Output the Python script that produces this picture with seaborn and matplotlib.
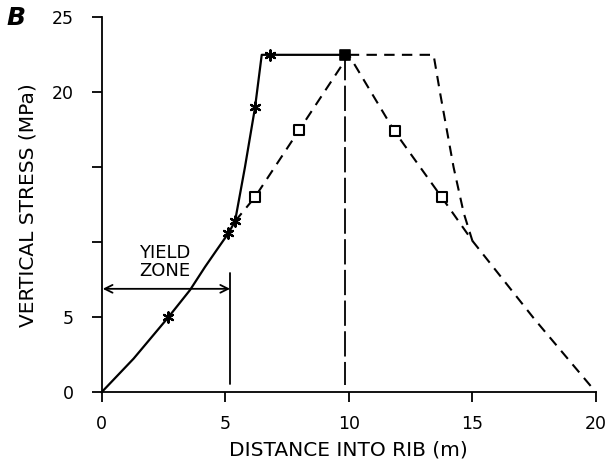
import matplotlib
matplotlib.use("Agg")
import matplotlib.pyplot as plt
import seaborn as sns
import pandas as pd
import numpy as np

sns.set_theme(style="ticks")
plt.rcParams['font.family'] = ['DejaVu Sans']
plt.rcParams['text.color'] = 'black'
plt.rcParams['axes.labelcolor'] = 'black'

# --- data ---
# solid curve (measured, with asterisks)
solid_x = [0, 1.3, 2.7, 3.58, 4.19, 4.66, 5.13, 5.40, 5.8, 6.21, 6.48, 6.82, 10]
solid_y = [0, 2.25, 5.0, 6.82, 8.37, 9.49, 10.6, 11.4, 15.0, 19.0, 22.5, 22.5, 22.5]
star_x = [2.7, 5.13, 5.40, 6.21, 6.82]
star_y = [5.0, 10.6, 11.4, 19.0, 22.5]

# dashed curve with open squares
dash_x = [5.40, 6.2, 8.0, 10, 11.85, 13.76, 15.0, 17.5, 20]
dash_y = [11.4, 13.0, 17.5, 22.5, 17.4, 13.0, 10.1, 4.9, 0]
sq_x = [6.2, 8.0, 11.85, 13.76]
sq_y = [13.0, 17.5, 17.4, 13.0]

# outer dashed envelope
outer_x = [10, 13.43, 13.7, 14.24, 14.65, 15.0]
outer_y = [22.5, 22.5, 19.9, 15.0, 11.95, 10.1]

# peak point
peak_x = [9.85]
peak_y = [22.5]

# centre-line (long dash)
centre_x = [9.85, 9.85]
centre_y = [22.5, 0.5]

# yield zone
yield_edge = 5.2
yield_arrow_y = 6.9

xticks = [0, 5, 10, 15, 20]
yticks = [0, 5, 10, 15, 20, 25]
ytick_labels = ["0", "5", "", "", "20", "25"]

fig = plt.figure(figsize=(6.13, 4.72), dpi=100)
ax = fig.add_axes([0.1656, 0.1688, 0.8067, 0.7945])

sns.lineplot(x=solid_x, y=solid_y, sort=False, estimator=None, ax=ax,
             color="black", lw=1.6)
sns.lineplot(x=dash_x, y=dash_y, sort=False, estimator=None, ax=ax,
             color="black", lw=1.5)
ax.lines[-1].set_dashes([5, 3.5])
sns.lineplot(x=outer_x, y=outer_y, sort=False, estimator=None, ax=ax,
             color="black", lw=1.5)
ax.lines[-1].set_dashes([5, 3.5])
sns.lineplot(x=centre_x, y=centre_y, sort=False, estimator=None, ax=ax,
             color="black", lw=1.3)
ax.lines[-1].set_dashes([14, 3])

sns.scatterplot(x=star_x, y=star_y, marker=(6, 2, 0), s=55, color="black",
                linewidth=1.6, edgecolor="black", ax=ax, zorder=5)
sns.scatterplot(x=sq_x, y=sq_y, marker="s", s=60, facecolor="white",
                edgecolor="black", linewidth=1.5, ax=ax, zorder=5)
sns.scatterplot(x=peak_x, y=peak_y, marker="s", s=60, color="black",
                edgecolor="black", linewidth=1.2, ax=ax, zorder=6)

# yield zone annotation
ax.annotate("", xy=(0.05, yield_arrow_y), xytext=(yield_edge, yield_arrow_y),
            arrowprops=dict(arrowstyle="<->", color="black", lw=1.3,
                            shrinkA=0, shrinkB=0, mutation_scale=14))
ax.plot([yield_edge, yield_edge], [0.55, 7.93], color="black", lw=1.3)
ax.text(2.55, 8.7, "YIELD\nZONE", ha="center", va="center", fontsize=13,
        linespacing=1.0)

ax.set_xlim(0, 20)
ax.set_ylim(0, 25)
ax.set_xticks(xticks)
ax.set_xticklabels([str(v) for v in xticks])
ax.set_yticks(yticks)
ax.set_yticklabels(ytick_labels)
ax.tick_params(axis="both", direction="out", length=7, width=1.3,
               labelsize=12.5, colors="black")
ax.tick_params(axis="x", pad=9)
ax.tick_params(axis="y", pad=13)
for s in ["top", "right"]:
    ax.spines[s].set_visible(False)
for s in ["left", "bottom"]:
    ax.spines[s].set_linewidth(1.3)
    ax.spines[s].set_color("black")

ax.set_xlabel("DISTANCE INTO RIB (m)", fontsize=14.5, labelpad=6)
ax.set_ylabel("VERTICAL STRESS (MPa)", fontsize=14.5, labelpad=10)
fig.text(0.011, 0.962, "B", fontsize=18, fontweight="bold", fontstyle="italic",
         ha="left", va="center")

for c in ax.collections:
    c.set_clip_on(False)
for l in ax.lines:
    l.set_clip_on(False)

fig.savefig("out.png", dpi=100, facecolor="white")
